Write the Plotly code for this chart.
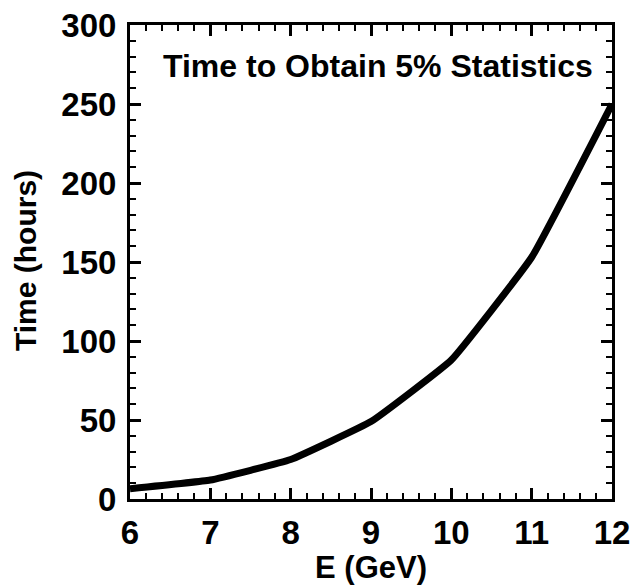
import plotly.graph_objects as go

energy_gev = [6, 7, 8, 9, 10, 11, 12]
time_hours = [6.5, 12, 25, 49, 88, 153, 250]

x_ticks = [6, 7, 8, 9, 10, 11, 12]
y_ticks = [0, 50, 100, 150, 200, 250, 300]

FONT = "Liberation Sans"

fig = go.Figure()
fig.add_trace(go.Scatter(
    x=energy_gev, y=time_hours, mode="lines",
    line=dict(color="black", width=7, shape="spline", smoothing=0.3),
    showlegend=False, hoverinfo="skip",
))

axis_common = dict(
    showline=True, linecolor="black", linewidth=3, mirror="allticks",
    ticks="inside", ticklen=11, tickwidth=2.5, tickcolor="black",
    showgrid=False, zeroline=False, automargin=False,
    ticklabeloverflow="allow",
    tickfont=dict(family=FONT, size=33, color="black", weight="bold"),
)

fig.update_xaxes(
    range=[6, 12], tickvals=x_ticks, ticktext=[str(v) for v in x_ticks],
    minor=dict(dtick=0.2, ticks="inside", ticklen=6, tickwidth=2, tickcolor="black"),
    title=dict(text="E (GeV)", font=dict(family=FONT, size=31, color="black", weight="bold"), standoff=2),
    ticklabelstandoff=2,
    **axis_common,
)
fig.update_yaxes(
    range=[0, 300], tickvals=y_ticks, ticktext=[str(v) for v in y_ticks],
    minor=dict(dtick=10, ticks="inside", ticklen=6, tickwidth=2, tickcolor="black"),
    ticklabelstandoff=4,
    **axis_common,
)

fig.add_annotation(
    text="Time (hours)", xref="paper", yref="paper",
    x=-0.218, y=0.504, xanchor="center", yanchor="middle", showarrow=False,
    textangle=-90,
    font=dict(family=FONT, size=30, color="black", weight="bold"),
)

fig.add_annotation(
    text="Time to Obtain 5% Statistics", xref="paper", yref="paper",
    x=0.965, y=0.913, xanchor="right", yanchor="middle", showarrow=False,
    font=dict(family=FONT, size=32, color="black", weight="bold"),
)

fig.update_layout(
    width=630, height=585,
    margin=dict(l=130, r=18, t=25, b=86),
    plot_bgcolor="white", paper_bgcolor="white",
)

fig.write_html("out.html")
